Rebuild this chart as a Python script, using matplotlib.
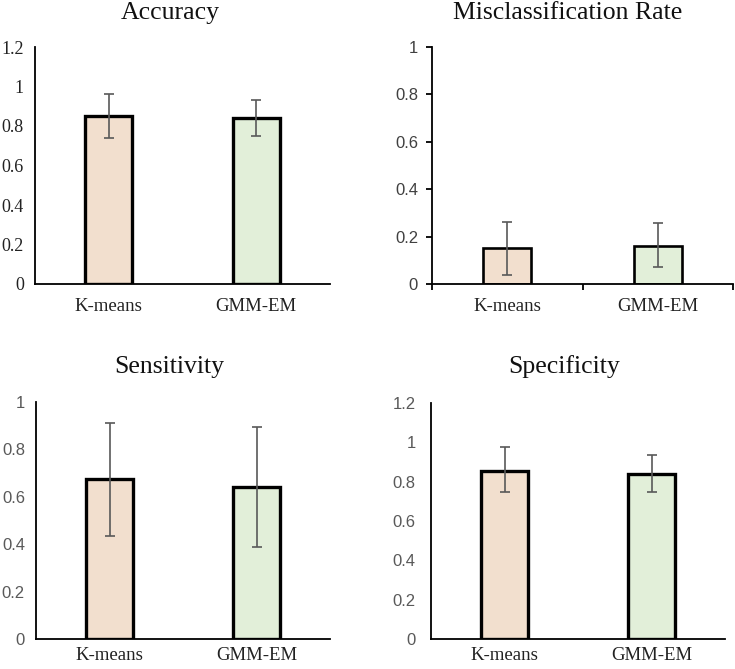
import matplotlib
matplotlib.use("Agg")
import matplotlib.pyplot as plt

# data
methods = ["K-means", "GMM-EM"]
bar_colors = ["#F2DFCE", "#E2EFD9"]

titles = ["Accuracy", "Misclassification Rate", "Sensitivity", "Specificity"]
means = [
    [0.851, 0.839],   # accuracy
    [0.152, 0.161],   # misclassification
    [0.676, 0.643],   # sensitivity
    [0.856, 0.839],   # specificity
]
err_low = [
    [0.741, 0.747],
    [0.038, 0.070],
    [0.436, 0.387],
    [0.745, 0.745],
]
err_high = [
    [0.962, 0.930],
    [0.263, 0.258],
    [0.912, 0.893],
    [0.974, 0.937],
]
y_max = [1.2, 1.0, 1.0, 1.2]
ytick_labels_12 = ["0", "0.2", "0.4", "0.6", "0.8", "1", "1.2"]
ytick_labels_10 = ["0", "0.2", "0.4", "0.6", "0.8", "1"]

serif = "Liberation Serif"
sans = "Liberation Sans"

fig = plt.figure(figsize=(7.35, 6.69), dpi=100)
W, H = 735, 669

# axes boxes in pixels: left, right, top, bottom
boxes = [
    (35, 330, 47, 284),
    (432, 733, 47, 284),
    (36, 330, 402, 639),
    (431, 725, 403, 639),
]
title_pos = [(170, 13), (568, 13), (169, 367), (564, 367)]

for i in range(4):
    l, r, t, b = boxes[i]
    ax = fig.add_axes([l / W, 1 - b / H, (r - l) / W, (b - t) / H])
    x = [0, 1]
    lo = [means[i][k] - err_low[i][k] for k in range(2)]
    hi = [err_high[i][k] - means[i][k] for k in range(2)]
    ax.bar(x, means[i], width=0.32, color=bar_colors, edgecolor="black",
           linewidth=2.4 if i != 1 else 1.9, zorder=2)
    ax.errorbar(x, means[i], yerr=[lo, hi], fmt="none", ecolor="#595959",
                elinewidth=1.2, capsize=3.6, capthick=1.2, zorder=3)
    ax.set_xlim(-0.5, 1.5)
    ax.set_ylim(0, y_max[i])
    if y_max[i] > 1.1:
        labels = ytick_labels_12
    else:
        labels = ytick_labels_10
    ax.set_yticks([k * 0.2 for k in range(len(labels))])
    ax.set_yticklabels(labels)
    ax.set_xticks(x)
    ax.set_xticklabels(methods, fontfamily=serif, fontsize=13.5, color="#222222")

    for s in ["top", "right"]:
        ax.spines[s].set_visible(False)
    for s in ["left", "bottom"]:
        ax.spines[s].set_linewidth(1.3)
        ax.spines[s].set_color("black")

    if i == 0:
        ax.tick_params(axis="y", length=0, pad=8)
        for lab in ax.get_yticklabels():
            lab.set_fontfamily(serif)
            lab.set_fontsize(13)
            lab.set_color("#222222")
    elif i == 1:
        ax.tick_params(axis="y", length=4, width=1.3, pad=6)
        for lab in ax.get_yticklabels():
            lab.set_fontfamily(sans)
            lab.set_fontsize(12)
            lab.set_color("#404040")
    else:
        ax.tick_params(axis="y", length=0, pad=8 if i == 2 else 11)
        for lab in ax.get_yticklabels():
            lab.set_fontfamily(sans)
            lab.set_fontsize(12)
            lab.set_color("#595959")

    ax.tick_params(axis="x", length=0, pad=10 if i < 2 else 6)
    if i == 1:
        ax.set_xticks([-0.5, 0.5, 1.5], minor=True)
        ax.tick_params(axis="x", which="minor", length=4, width=1.3)

    tx, ty = title_pos[i]
    fig.text(tx / W, 1 - ty / H, titles[i], fontfamily=serif, fontsize=18.5,
             ha="center", va="center", color="#111111")

fig.savefig("out.png", dpi=100)
